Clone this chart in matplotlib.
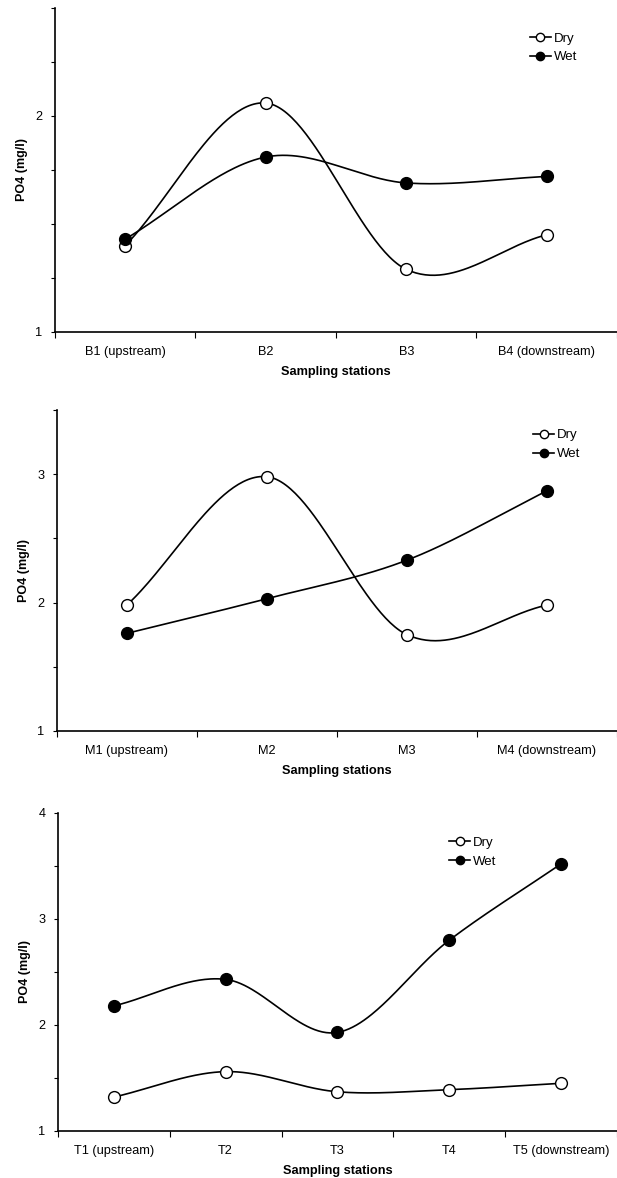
import numpy as np
import matplotlib
matplotlib.use("Agg")
import matplotlib.pyplot as plt
from matplotlib.lines import Line2D
from matplotlib.ticker import MultipleLocator, FixedLocator, NullFormatter

plt.rcParams['font.family'] = ['Liberation Sans', 'DejaVu Sans']

# ---- data ----
stations_b = ["B1 (upstream)", "B2", "B3", "B4 (downstream)"]
dry_b = [1.40, 2.06, 1.29, 1.45]
wet_b = [1.43, 1.81, 1.69, 1.72]

stations_m = ["M1 (upstream)", "M2", "M3", "M4 (downstream)"]
dry_m = [1.98, 2.98, 1.75, 1.98]
wet_m = [1.76, 2.03, 2.33, 2.87]

stations_t = ["T1 (upstream)", "T2", "T3", "T4", "T5 (downstream)"]
dry_t = [1.32, 1.56, 1.37, 1.39, 1.45]
wet_t = [2.18, 2.43, 1.93, 2.80, 3.52]

ylims = [(1, 2.5), (1, 3.5), (1, 4)]
ymajor = [[1, 2], [1, 2, 3], [1, 2, 3, 4]]
yminor_step = [0.25, 0.5, 0.5]


def catmull_rom(x, y, num=60):
    """Smooth drawing curve (cubic Hermite, Catmull-Rom tangents) through the points."""
    x = np.asarray(x, float)
    y = np.asarray(y, float)
    n = len(x)
    m = np.empty(n)
    m[1:-1] = (y[2:] - y[:-2]) / (x[2:] - x[:-2])
    m[0] = (y[1] - y[0]) / (x[1] - x[0])
    m[-1] = (y[-1] - y[-2]) / (x[-1] - x[-2])
    xs_all, ys_all = [], []
    for i in range(n - 1):
        h = x[i + 1] - x[i]
        t = np.linspace(0, 1, num)
        h00 = 2 * t ** 3 - 3 * t ** 2 + 1
        h10 = t ** 3 - 2 * t ** 2 + t
        h01 = -2 * t ** 3 + 3 * t ** 2
        h11 = t ** 3 - t ** 2
        ys = h00 * y[i] + h10 * h * m[i] + h01 * y[i + 1] + h11 * h * m[i + 1]
        xs = x[i] + t * h
        xs_all.append(xs)
        ys_all.append(ys)
    return np.concatenate(xs_all), np.concatenate(ys_all)


fig = plt.figure(figsize=(6.17, 11.78), dpi=100)

axes_pos = [
    [0.089, 0.7182, 0.911, 0.275],
    [0.092, 0.3795, 0.908, 0.2725],
    [0.094, 0.0399, 0.906, 0.270],
]
legend_anchor = [(0.845, 0.925), (0.85, 0.94), (0.70, 0.925)]

panels = [
    (stations_b, dry_b, wet_b),
    (stations_m, dry_m, wet_m),
    (stations_t, dry_t, wet_t),
]

for p, (stations, dry, wet) in enumerate(panels):
    ax = fig.add_axes(axes_pos[p])
    n = len(stations)
    xc = np.arange(n) + 0.5
    for vals, fc in ((dry, 'white'), (wet, 'black')):
        xs, ys = catmull_rom(xc, vals)
        ax.plot(xs, ys, color='black', lw=1.2, zorder=2)
        ax.plot(xc, vals, linestyle='none', marker='o', ms=8.5,
                mfc=fc, mec='black', mew=1.0, zorder=3)
    ax.set_xlim(0, n)
    ax.set_ylim(*ylims[p])
    ax.spines['top'].set_visible(False)
    ax.spines['right'].set_visible(False)
    for s in ('left', 'bottom'):
        ax.spines[s].set_linewidth(1.2)
    ax.xaxis.set_major_locator(FixedLocator(list(range(n + 1))))
    ax.xaxis.set_major_formatter(NullFormatter())
    ax.xaxis.set_minor_locator(FixedLocator(list(xc)))
    ax.set_xticklabels(stations, minor=True)
    ax.tick_params(axis='x', which='major', direction='out', length=4, width=0.8)
    ax.tick_params(axis='x', which='minor', length=0, pad=10, labelsize=9.2)
    ax.yaxis.set_major_locator(FixedLocator(ymajor[p]))
    ax.yaxis.set_minor_locator(MultipleLocator(yminor_step[p]))
    ax.tick_params(axis='y', which='both', direction='out', length=3, width=0.8,
                   labelsize=9.2, pad=6)
    ax.set_ylabel("PO4 (mg/l)", fontsize=9, fontweight='bold', labelpad=5)
    ax.set_xlabel("Sampling stations", fontsize=9.2, fontweight='bold', labelpad=6)

    handles = [
        Line2D([], [], color='black', lw=1.2, marker='o', ms=6,
               mfc='white', mec='black'),
        Line2D([], [], color='black', lw=1.2, marker='o', ms=6,
               mfc='black', mec='black'),
    ]
    ax.legend(handles, ["Dry", "Wet"], loc='upper left',
              bbox_to_anchor=legend_anchor[p], frameon=False, fontsize=9.5,
              handlelength=1.6, handletextpad=0.2, labelspacing=0.5,
              borderpad=0, borderaxespad=0, numpoints=1)

fig.savefig("out.png", dpi=100)
